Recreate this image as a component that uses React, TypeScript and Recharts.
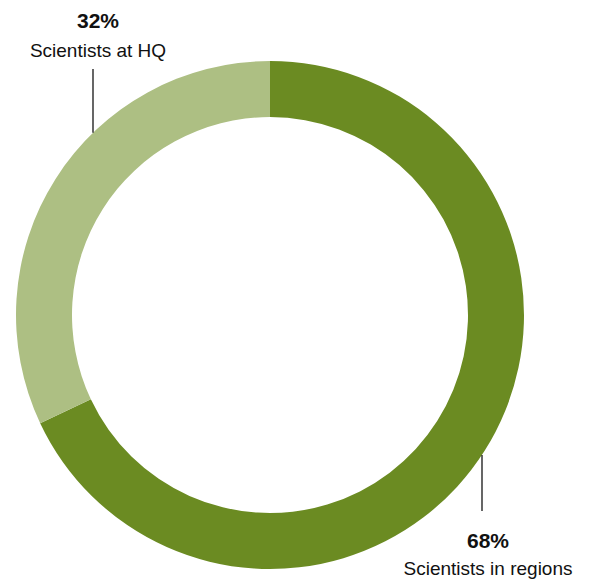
import { PieChart, Pie, Cell } from "recharts";

const categories = ["Scientists in regions", "Scientists at HQ"];
const shares = [68, 32];
const colors = ["#6b8b22", "#adbf83"];

// where each label sits, relative to the pie centre
const labelSpots = [
  { lineX: 212, lineEndY: 196, textX: 218, pctY: 233, nameY: 260 },
  { lineX: -177, lineEndY: -246, textX: -172, pctY: -287, nameY: -258 },
];

const chartData = categories.map((name, i) => ({ name, value: shares[i] }));

const renderLabel = (props: any) => {
  const { cx, cy, outerRadius, index, value } = props;
  const spot = labelSpots[index];
  const dy = Math.sqrt(Math.max(outerRadius * outerRadius - spot.lineX * spot.lineX, 0));
  const edgeY = spot.lineEndY > 0 ? cy + dy : cy - dy;
  return (
    <g key={`lbl-${index}`}>
      <line
        x1={cx + spot.lineX}
        x2={cx + spot.lineX}
        y1={edgeY}
        y2={cy + spot.lineEndY}
        stroke="#000"
        strokeWidth={1.2}
      />
      <text
        x={cx + spot.textX}
        y={cy + spot.pctY}
        textAnchor="middle"
        fontSize={21}
        fontWeight="bold"
        fill="#111"
      >
        {value}%
      </text>
      <text x={cx + spot.textX} y={cy + spot.nameY} textAnchor="middle" fontSize={19} fill="#111">
        {categories[index]}
      </text>
    </g>
  );
};

export default function App() {
  return (
    <div
      style={{
        position: "absolute",
        left: 0,
        top: 0,
        width: 591,
        height: 580,
        background: "#fff",
        fontFamily: "'Liberation Sans', Arial, sans-serif",
      }}
    >
      <PieChart width={591} height={580} margin={{ top: 0, right: 0, bottom: 0, left: 0 }} style={{ overflow: "visible" }}>
        <Pie
          data={chartData}
          dataKey="value"
          nameKey="name"
          cx={270}
          cy={315}
          innerRadius={198}
          outerRadius={254}
          startAngle={90}
          endAngle={-270}
          stroke="none"
          label={renderLabel}
          labelLine={false}
          isAnimationActive={false}
        >
          {chartData.map((d, i) => (
            <Cell key={d.name} fill={colors[i]} />
          ))}
        </Pie>
      </PieChart>
    </div>
  );
}
